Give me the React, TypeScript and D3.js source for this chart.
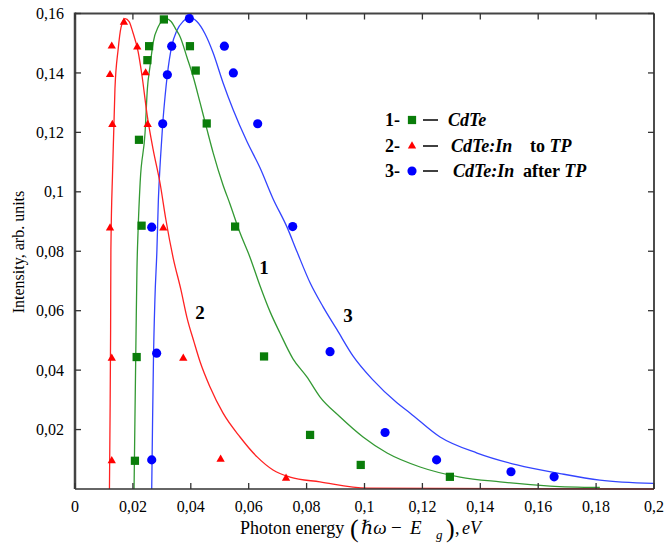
import React, { useEffect, useRef } from 'react';
import * as d3 from 'd3';

// measured points (photon energy, intensity)
const cdtePoints: [number, number][] = [
  [0.0207, 0.0095], [0.0213, 0.0444], [0.0221, 0.1175], [0.023, 0.0886], [0.025, 0.1443],
  [0.0256, 0.149], [0.0307, 0.158], [0.0397, 0.149], [0.0417, 0.1408], [0.0455, 0.123],
  [0.0553, 0.0883], [0.0653, 0.0446], [0.0812, 0.0182], [0.0987, 0.0081], [0.1295, 0.0041],
];
const inBeforePoints: [number, number][] = [
  [0.0127, 0.149], [0.0121, 0.1394], [0.0129, 0.1226], [0.0121, 0.0878], [0.0169, 0.157],
  [0.0215, 0.1487], [0.0244, 0.14], [0.0251, 0.1226], [0.0305, 0.0878], [0.0127, 0.044],
  [0.0374, 0.044], [0.0127, 0.0095], [0.0503, 0.01], [0.0729, 0.0036],
];
const inAfterPoints: [number, number][] = [
  [0.0395, 0.1583], [0.0334, 0.149], [0.0319, 0.1394], [0.0303, 0.1229], [0.0265, 0.0881],
  [0.0516, 0.149], [0.0547, 0.14], [0.0631, 0.1229], [0.0752, 0.0883], [0.0282, 0.0457],
  [0.0265, 0.0098], [0.0881, 0.0462], [0.1071, 0.019], [0.1249, 0.0098], [0.1506, 0.0058],
  [0.1655, 0.0041],
];

// fitted curves
const cdteCurve: [number, number][] = [
  [0.0204, 0], [0.0207, 0.0232], [0.0211, 0.0536], [0.0214, 0.0738], [0.0218, 0.0872],
  [0.0225, 0.1031], [0.0242, 0.1199], [0.025, 0.1347], [0.0259, 0.1421], [0.027, 0.1502],
  [0.0288, 0.1556], [0.0314, 0.1583], [0.0332, 0.1573], [0.0349, 0.1546], [0.0363, 0.1522],
  [0.0387, 0.1452], [0.0408, 0.1388], [0.0432, 0.13], [0.0456, 0.1209], [0.0477, 0.1132],
  [0.0511, 0.1024], [0.0535, 0.096], [0.057, 0.0862], [0.0604, 0.0781], [0.0639, 0.0684],
  [0.0674, 0.0596], [0.0708, 0.0525], [0.0753, 0.0438], [0.0801, 0.0377], [0.0846, 0.031],
  [0.0915, 0.0243], [0.0995, 0.0175], [0.1078, 0.0121], [0.1192, 0.0074], [0.133, 0.004],
  [0.1468, 0.0024], [0.1641, 0.001], [0.1813, 0.0005],
];
const inBeforeCurve: [number, number][] = [
  [0.0119, 0], [0.0121, 0.0232], [0.0123, 0.0536], [0.0124, 0.0805], [0.013, 0.1074],
  [0.0138, 0.1347], [0.0149, 0.1479], [0.0159, 0.1553], [0.0173, 0.1583], [0.0187, 0.1573],
  [0.02, 0.1536], [0.0218, 0.1472], [0.0231, 0.1394], [0.0249, 0.126], [0.027, 0.1142],
  [0.0294, 0.1028], [0.0314, 0.0906], [0.0339, 0.0778], [0.0366, 0.067], [0.0387, 0.0576],
  [0.0411, 0.0495], [0.0432, 0.0428], [0.0466, 0.0344], [0.0511, 0.0256], [0.057, 0.0175],
  [0.0629, 0.0108], [0.0684, 0.0064], [0.0743, 0.004], [0.0846, 0.0024], [0.1009, 0.0003],
  [0.2, 0],
];
const inAfterCurve: [number, number][] = [
  [0.0265, 0], [0.0268, 0.0232], [0.0271, 0.0434], [0.0276, 0.0637], [0.0283, 0.0805],
  [0.0288, 0.0973], [0.0295, 0.1108], [0.0303, 0.1229], [0.0311, 0.132], [0.0319, 0.1394],
  [0.0334, 0.1489], [0.0352, 0.1543], [0.0373, 0.1573], [0.0397, 0.1586], [0.0421, 0.1573],
  [0.0449, 0.1532], [0.0477, 0.1468], [0.0511, 0.1368], [0.0546, 0.1277],
  [0.0594, 0.1169], [0.0639, 0.1081], [0.0684, 0.0977], [0.0732, 0.0882], [0.0767, 0.0798],
  [0.0812, 0.0694], [0.0857, 0.0613], [0.0905, 0.0536], [0.096, 0.0448], [0.1029, 0.0367],
  [0.1112, 0.029], [0.1157, 0.0256], [0.1261, 0.0175], [0.1389, 0.0121], [0.1527, 0.0081],
  [0.1675, 0.0052], [0.1813, 0.003], [0.1997, 0.0019],
];

const xTicks = [0, 0.02, 0.04, 0.06, 0.08, 0.1, 0.12, 0.14, 0.16, 0.18, 0.2];
const yTicks = [0.02, 0.04, 0.06, 0.08, 0.1, 0.12, 0.14, 0.16];

const FONT = '"Liberation Serif", "Times New Roman", "DejaVu Serif", serif';

const App = () => {
  const ref = useRef<SVGSVGElement | null>(null);

  useEffect(() => {
    if (ref.current) drawChart(ref.current);
  }, []);

  return (
    <svg
      ref={ref}
      width={668}
      height={544}
      fontFamily={FONT}
      style={{ position: 'absolute', left: 0, top: 0, background: '#fff' }}
    />
  );
};

function drawChart(el: SVGSVGElement) {
  const svg = d3.select(el);
  svg.selectAll('*').remove();

  const left = 75, right = 654, top = 13.5, bottom = 489;
  const x = d3.scaleLinear().domain([0, 0.2]).range([left, right]);
  const y = d3.scaleLinear().domain([0, 0.16]).range([bottom, top]);
  const fmt = (d: number) => String(+d.toFixed(2)).replace('.', ',');

  // curves
  const line = d3.line<[number, number]>()
    .x(d => x(d[0]))
    .y(d => y(d[1]))
    .curve(d3.curveMonotoneX);

  const curves: [[number, number][], string][] = [
    [inAfterCurve, '#3344ff'],
    [cdteCurve, '#339933'],
    [inBeforeCurve, '#ff2222'],
  ];
  curves.forEach(([data, color]) => {
    svg.append('path')
      .attr('d', line(data))
      .attr('fill', 'none')
      .attr('stroke', color)
      .attr('stroke-width', 1.3);
  });

  // frame
  svg.append('line').attr('x1', left).attr('x2', right).attr('y1', bottom).attr('y2', bottom)
    .attr('stroke', '#333').attr('stroke-width', 1.5);
  svg.append('line').attr('x1', right).attr('x2', right).attr('y1', top).attr('y2', bottom)
    .attr('stroke', '#111').attr('stroke-width', 1.5);
  svg.append('line').attr('x1', left).attr('x2', right).attr('y1', top).attr('y2', top)
    .attr('stroke', '#444').attr('stroke-width', 2);
  svg.append('line').attr('x1', left).attr('x2', left).attr('y1', top - 1).attr('y2', bottom)
    .attr('stroke', '#444').attr('stroke-width', 2.5);

  // ticks (inward on all sides)
  const tl = 6;
  xTicks.forEach(t => {
    svg.append('line').attr('x1', x(t)).attr('x2', x(t)).attr('y1', bottom).attr('y2', bottom - tl)
      .attr('stroke', '#333').attr('stroke-width', 1.3);
    svg.append('line').attr('x1', x(t)).attr('x2', x(t)).attr('y1', top).attr('y2', top + tl)
      .attr('stroke', '#333').attr('stroke-width', 1.3);
    svg.append('text')
      .attr('x', x(t)).attr('y', 512)
      .attr('text-anchor', 'middle')
      .attr('font-size', 16)
      .text(fmt(t));
  });
  yTicks.forEach(t => {
    svg.append('line').attr('x1', left).attr('x2', left + tl).attr('y1', y(t)).attr('y2', y(t))
      .attr('stroke', '#333').attr('stroke-width', 1.3);
    svg.append('line').attr('x1', right).attr('x2', right - tl).attr('y1', y(t)).attr('y2', y(t))
      .attr('stroke', '#333').attr('stroke-width', 1.3);
    svg.append('text')
      .attr('x', 64).attr('y', y(t)).attr('dy', '0.35em')
      .attr('text-anchor', 'end')
      .attr('font-size', 16)
      .text(fmt(t));
  });

  // markers
  const sq = d3.symbol(d3.symbolSquare, 68);
  const tri = d3.symbol(d3.symbolTriangle, 30);
  const circ = d3.symbol(d3.symbolCircle, 66);

  svg.append('g').selectAll('path').data(cdtePoints).enter().append('path')
    .attr('d', sq()).attr('transform', d => `translate(${x(d[0])},${y(d[1])})`).attr('fill', '#0a7d0a');
  svg.append('g').selectAll('path').data(inBeforePoints).enter().append('path')
    .attr('d', tri()).attr('transform', d => `translate(${x(d[0])},${y(d[1])})`).attr('fill', '#ff0000');
  svg.append('g').selectAll('path').data(inAfterPoints).enter().append('path')
    .attr('d', circ()).attr('transform', d => `translate(${x(d[0])},${y(d[1])})`).attr('fill', '#0000ff');

  // curve numbers
  const num = (tx: number, ty: number, s: string) =>
    svg.append('text').attr('x', tx).attr('y', ty)
      .attr('text-anchor', 'middle')
      .attr('font-size', 19).attr('font-weight', 'bold')
      .text(s);
  num(264, 274, '1');
  num(200, 319, '2');
  num(348, 322, '3');

  // legend
  const lg = svg.append('g').attr('font-size', 18).attr('font-weight', 'bold');
  const rows = [
    { n: '1-', sym: sq, color: '#0a7d0a', y: 126 },
    { n: '2-', sym: tri, color: '#ff0000', y: 152 },
    { n: '3-', sym: circ, color: '#0000ff', y: 177 },
  ];
  rows.forEach(r => {
    lg.append('text').attr('x', 385).attr('y', r.y).text(r.n);
    lg.append('path').attr('d', r.sym()).attr('transform', `translate(412,${r.y - 6})`).attr('fill', r.color);
    lg.append('line').attr('x1', 423).attr('x2', 438).attr('y1', r.y - 6).attr('y2', r.y - 6)
      .attr('stroke', '#000').attr('stroke-width', 1.5);
  });
  lg.append('text').attr('x', 448).attr('y', 126).attr('font-style', 'italic').text('CdTe');
  const r2 = lg.append('text').attr('x', 451).attr('y', 152);
  r2.append('tspan').attr('font-style', 'italic').text('CdTe:In');
  r2.append('tspan').attr('x', 530).text('to ');
  r2.append('tspan').attr('font-style', 'italic').text('TP');
  const r3 = lg.append('text').attr('x', 453).attr('y', 177);
  r3.append('tspan').attr('font-style', 'italic').text('CdTe:In');
  r3.append('tspan').attr('x', 523).text('after ');
  r3.append('tspan').attr('font-style', 'italic').text('TP');

  // axis titles
  svg.append('text')
    .attr('transform', 'translate(24,252) rotate(-90)')
    .attr('text-anchor', 'middle')
    .attr('font-size', 16)
    .text('Intensity, arb. units');

  const xl = svg.append('text').attr('y', 534).attr('font-size', 18);
  xl.append('tspan').attr('x', 240).text('Photon energy');
  xl.append('tspan').attr('x', 350).attr('y', 537).attr('font-size', 26).text('(');
  xl.append('tspan').attr('x', 361).attr('y', 534).attr('font-size', 19).attr('font-style', 'italic').text('ℏω');
  xl.append('tspan').attr('x', 391).attr('font-size', 19).text('−');
  xl.append('tspan').attr('x', 410).attr('font-size', 19).attr('font-style', 'italic').text('E');
  xl.append('tspan').attr('x', 436).attr('y', 539).attr('font-style', 'italic').attr('font-size', 13).text('g');
  xl.append('tspan').attr('x', 446).attr('y', 537).attr('font-size', 26).text(')');
  xl.append('tspan').attr('x', 455).attr('y', 534).text(',');
  xl.append('tspan').attr('x', 462).attr('font-style', 'italic').text('eV');
}

export default App;
